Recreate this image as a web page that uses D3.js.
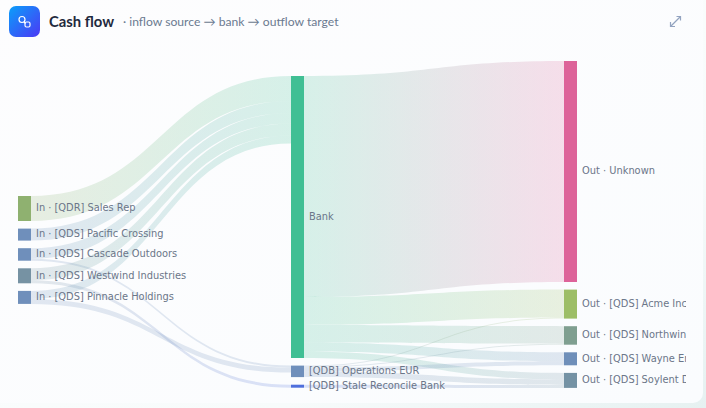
<!DOCTYPE html>
<html>
<head>
<meta charset="utf-8">
<script src="https://cdn.jsdelivr.net/npm/d3@7/dist/d3.min.js"></script>
<style>
html,body{margin:0;padding:0;width:706px;height:408px;overflow:hidden;background:#fff}
svg{display:block}
</style>
</head>
<body>
<svg id="chart" width="706" height="408"></svg>
<script>
// Cash flow sankey: inflow sources feed the bank and clearing accounts, which pay the outflow targets.
const inflowNodes = ["In · [QDR] Sales Rep", "In · [QDS] Pacific Crossing", "In · [QDS] Cascade Outdoors", "In · [QDS] Westwind Industries", "In · [QDS] Pinnacle Holdings"];
const bankNodes = ["Bank", "[QDB] Operations EUR", "[QDB] Stale Reconcile Bank"];
const outflowNodes = ["Out · Unknown", "Out · [QDS] Acme Inc", "Out · [QDS] Northwind Traders", "Out · [QDS] Wayne Enterprises", "Out · [QDS] Soylent Distribution"];

const linkSources = [
  "In · [QDR] Sales Rep", "In · [QDS] Pacific Crossing", "In · [QDS] Cascade Outdoors", "In · [QDS] Cascade Outdoors",
  "In · [QDS] Westwind Industries", "In · [QDS] Westwind Industries", "In · [QDS] Pinnacle Holdings", "In · [QDS] Pinnacle Holdings",
  "Bank", "Bank", "Bank", "Bank", "Bank",
  "[QDB] Operations EUR", "[QDB] Operations EUR", "[QDB] Operations EUR", "[QDB] Operations EUR",
  "[QDB] Stale Reconcile Bank"
];
const linkTargets = [
  "Bank", "Bank", "Bank", "[QDB] Operations EUR",
  "Bank", "[QDB] Stale Reconcile Bank", "Bank", "[QDB] Operations EUR",
  "Out · Unknown", "Out · [QDS] Acme Inc", "Out · [QDS] Northwind Traders", "Out · [QDS] Wayne Enterprises", "Out · [QDS] Soylent Distribution",
  "Out · [QDS] Acme Inc", "Out · [QDS] Northwind Traders", "Out · [QDS] Wayne Enterprises", "Out · [QDS] Soylent Distribution",
  "Out · [QDS] Soylent Distribution"
];
const linkValues = [
  25, 12, 10.5, 2,
  12, 3, 8, 5,
  221, 28, 17.5, 9, 6.5,
  1, 1, 4, 5.5,
  3
];
const nodePalette = [
  "#8fb170", "#6f8fbb", "#6f8fbb", "#7692a3", "#6f8fbb",
  "#40bf94", "#6f8fbb", "#4f6fdc",
  "#dd6399", "#9dbe66", "#7f9f90", "#6f8fb9", "#7492a4"
];

const svg = d3.select("#chart");
const defs = svg.append("defs");

// Page backdrop and rounded card
const backdrop = defs.append("linearGradient").attr("id", "backdrop").attr("x1", 0).attr("y1", 0).attr("x2", 1).attr("y2", 1);
backdrop.append("stop").attr("offset", "0%").attr("stop-color", "#ffffff");
backdrop.append("stop").attr("offset", "70%").attr("stop-color", "#f7fbfb");
backdrop.append("stop").attr("offset", "100%").attr("stop-color", "#e6f1f1");
const cardFill = defs.append("linearGradient").attr("id", "cardFill").attr("x1", 0).attr("y1", 0).attr("x2", 1).attr("y2", 1);
cardFill.append("stop").attr("offset", "0%").attr("stop-color", "#fdfdfe");
cardFill.append("stop").attr("offset", "100%").attr("stop-color", "#fafcfe");
svg.append("rect").attr("width", 706).attr("height", 408).attr("fill", "url(#backdrop)");
svg.append("rect").attr("x", -12).attr("y", -12).attr("width", 715).attr("height", 415).attr("rx", 10).attr("fill", "url(#cardFill)");

// Header: badge, title, subtitle, expand control
const badge = defs.append("linearGradient").attr("id", "badge").attr("x1", 0).attr("y1", 0).attr("x2", 1).attr("y2", 1);
badge.append("stop").attr("offset", "0%").attr("stop-color", "#0a9ffa");
badge.append("stop").attr("offset", "100%").attr("stop-color", "#4c38f5");
const header = svg.append("g");
header.append("rect").attr("x", 9).attr("y", 6).attr("width", 31).attr("height", 31).attr("rx", 7).attr("fill", "url(#badge)");
const glyph = header.append("g").attr("fill", "none").attr("stroke", "#fff").attr("stroke-width", 1.2);
glyph.append("circle").attr("cx", 22).attr("cy", 19.5).attr("r", 3);
glyph.append("rect").attr("x", 25).attr("y", 22).attr("width", 5).attr("height", 5).attr("rx", 1.5);
glyph.append("line").attr("x1", 24).attr("y1", 22).attr("x2", 25.5).attr("y2", 23.5);
header.append("text").attr("x", 49).attr("y", 27).attr("font-family", "Lato, 'DejaVu Sans', sans-serif").attr("font-size", 14.8).attr("font-weight", 700).attr("fill", "#1f2a3d").text("Cash flow");
header.append("text").attr("x", 123).attr("y", 26).attr("font-family", "Lato, 'DejaVu Sans', sans-serif").attr("font-size", 12.15).attr("fill", "#6b7a90").text("· inflow source → bank → outflow target");
const expand = header.append("g").attr("fill", "none").attr("stroke", "#93a3c0").attr("stroke-width", 1.2);
expand.append("path").attr("d", d3.line()([[671, 26], [680.5, 16.5]]));
expand.append("path").attr("d", d3.line()([[676.5, 16.5], [680.5, 16.5], [680.5, 20.5]]));
expand.append("path").attr("d", d3.line()([[670.5, 22], [670.5, 26.5], [675, 26.5]]));

// Layout settings for the three columns
const nodeWidth = 13, nodeGap = 7.6;
const columns = [inflowNodes, bankNodes, outflowNodes];
const columnTops = [196, 76, 61];
const xScale = d3.scalePoint().domain([0, 1, 2]).range([18, 564]);
const height = d3.scaleLinear().domain([0, 300]).range([0, 300]);
const colour = d3.scaleOrdinal().domain(columns.flat()).range(nodePalette);

const links = linkValues.map((value, i) => ({ id: i, source: linkSources[i], target: linkTargets[i], value }));
const nodes = new Map();
columns.forEach((names, col) => {
  let y = columnTops[col];
  names.forEach(name => {
    const inSum = d3.sum(links.filter(l => l.target === name), l => l.value);
    const outSum = d3.sum(links.filter(l => l.source === name), l => l.value);
    const h = height(Math.max(inSum, outSum));
    nodes.set(name, { name, col, x: xScale(col), y, h });
    y += h + nodeGap;
  });
});

// Stack each link along its source and target node
nodes.forEach(node => {
  let top = node.y;
  links.filter(l => l.source === node.name).sort((a, b) => nodes.get(a.target).y - nodes.get(b.target).y).forEach(l => {
    l.y0 = top; top += height(l.value);
  });
  top = node.y;
  links.filter(l => l.target === node.name).sort((a, b) => nodes.get(a.source).y - nodes.get(b.source).y).forEach(l => {
    l.y1 = top; top += height(l.value);
  });
});

const ribbon = l => {
  const x0 = nodes.get(l.source).x + nodeWidth, x1 = nodes.get(l.target).x, t = height(l.value), mid = (x0 + x1) / 2;
  const p = d3.path();
  p.moveTo(x0, l.y0);
  p.bezierCurveTo(mid, l.y0, mid, l.y1, x1, l.y1);
  p.lineTo(x1, l.y1 + t);
  p.bezierCurveTo(mid, l.y1 + t, mid, l.y0 + t, x0, l.y0 + t);
  p.closePath();
  return p.toString();
};

const grads = defs.selectAll("linearGradient.flow").data(links).join("linearGradient")
  .attr("class", "flow").attr("id", l => "flow" + l.id).attr("gradientUnits", "userSpaceOnUse")
  .attr("x1", l => nodes.get(l.source).x + nodeWidth).attr("x2", l => nodes.get(l.target).x)
  .attr("y1", 0).attr("y2", 0);
grads.append("stop").attr("offset", "0%").attr("stop-color", l => colour(l.source));
grads.append("stop").attr("offset", "100%").attr("stop-color", l => colour(l.target));

svg.append("g").selectAll("path").data(links).join("path")
  .attr("d", ribbon)
  .attr("fill", l => `url(#flow${l.id})`)
  .attr("fill-opacity", 0.2);

svg.append("g").selectAll("rect").data([...nodes.values()]).join("rect")
  .attr("x", d => d.x).attr("y", d => d.y)
  .attr("width", nodeWidth).attr("height", d => d.h)
  .attr("fill", d => colour(d.name));

// Node labels, clipped at the card's inner edge
defs.append("clipPath").attr("id", "labelClip").append("rect").attr("x", 0).attr("y", 40).attr("width", 686).attr("height", 368);
svg.append("g").attr("clip-path", "url(#labelClip)")
  .selectAll("text").data([...nodes.values()]).join("text")
  .attr("x", d => d.x + nodeWidth + 5).attr("y", d => d.y + d.h / 2)
  .attr("dy", "0.28em")
  .attr("font-family", "'DejaVu Sans', sans-serif").attr("font-size", 9.85)
  .attr("fill", "#6b7689")
  .text(d => d.name);
</script>
</body>
</html>
